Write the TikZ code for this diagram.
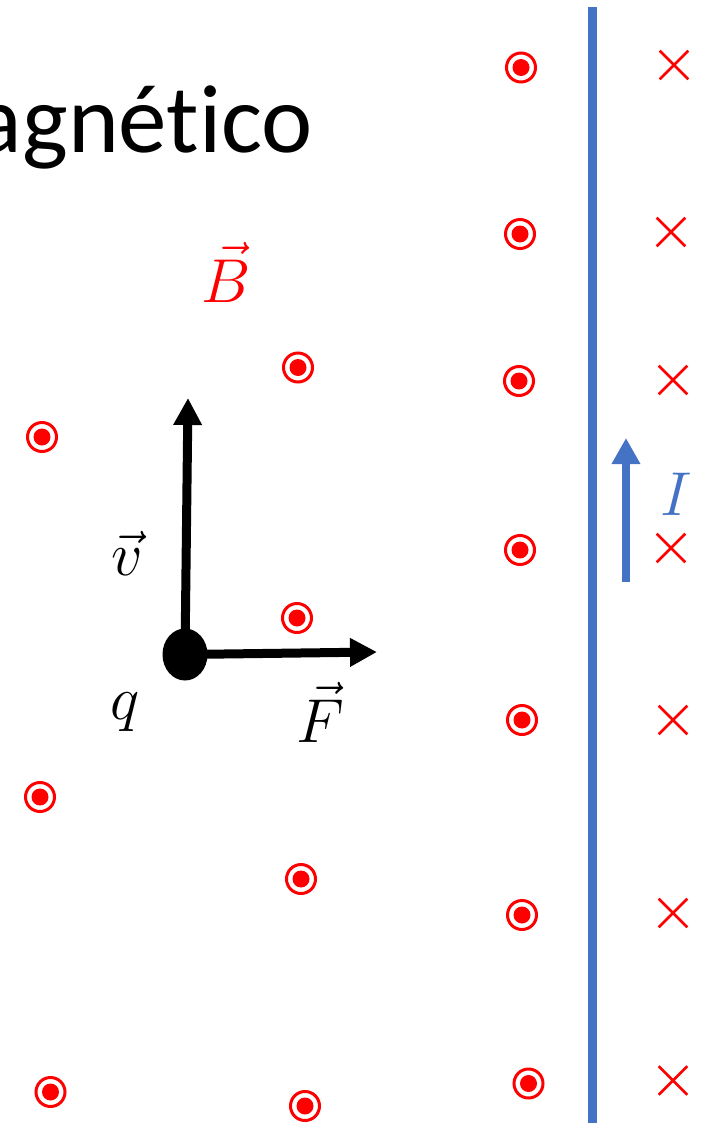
\RequirePackage{fix-cm}
\documentclass[tikz,border=0pt]{standalone}
\usepackage{fontspec}
\newfontfamily\titlefont[Ligatures=NoCommon]{Carlito}
\usetikzlibrary{arrows.meta,shapes.misc,shapes.geometric}
\definecolor{wireblue}{HTML}{4472C4}
\definecolor{fieldred}{HTML}{FF0000}
\begin{document}
\begin{tikzpicture}[x=1pt,y=-1pt,
  bdot/.style={circle,draw=fieldred,line width=3pt,minimum size=29pt,inner sep=0pt,
    path picture={\fill[fieldred] (path picture bounding box.center) circle (8.5pt);}},
  bcross/.style={cross out,draw=fieldred,line width=2.6pt,minimum size=26pt,inner sep=0pt},
  vecarrow/.style={line width=9pt,-{Triangle[length=27pt,width=27pt]}},
  lbl/.style={inner sep=0pt,anchor=base,font=\fontsize{62}{70}\selectfont}]
\useasboundingbox (0,0) rectangle (704,1125);
% title
\node[anchor=base east,inner sep=0pt,font=\titlefont\fontsize{97}{110}\selectfont] (title) at (313,152) {agnético};
% field dots
\foreach \n/\x/\y in {a1/42/437, a2/40/797, a3/50.5/1092,
                      b1/298/367.5, b2/297/618, b3/301/879, b4/305/1106,
                      c1/521/67.5, c2/520/234, c3/519/381, c4/520/550, c5/522/720, c6/522/915, c7/528.5/1083.5}
  \node[bdot] (dot\n) at (\x,\y) {};
% crosses
\foreach \n/\x/\y in {1/674/65, 2/671/232, 3/673/380, 4/671/548, 5/673/720, 6/673/913, 7/673/1080.5}
  \node[bcross] (cross\n) at (\x,\y) {};
% wire
\coordinate (wtop) at (592,7);
\coordinate (wbot) at (592,1123);
\draw[wireblue,line width=9pt] (wtop) -- (wbot);
% current arrow
\coordinate (itail) at (626,582);
\coordinate (itip) at (626,438);
\draw[wireblue,line width=8pt,-{Triangle[length=26pt,width=27pt]}] (itail) -- (itip);
% charge and vectors
\node[ellipse,fill=black,minimum width=45pt,minimum height=52pt,inner sep=0pt] (q) at (185,654.5) {};
\coordinate (vtip) at (188,398);
\coordinate (ftip) at (377,652);
\draw[vecarrow] (q.center) -- (vtip);
\draw[vecarrow] (q.center) -- (ftip);
% labels
\node[lbl,text=fieldred] (Blbl) at (226,302) {$\vec{B}$};
\node[lbl] (vlbl) at (127,575) {$\vec{v}$};
\node[lbl] (qlbl) at (125,719) {$q$};
\node[lbl] (Flbl) at (320,742) {$\vec{F}$};
\node[lbl,text=wireblue] (Ilbl) at (676,515) {$I$};
\end{tikzpicture}
\end{document}
